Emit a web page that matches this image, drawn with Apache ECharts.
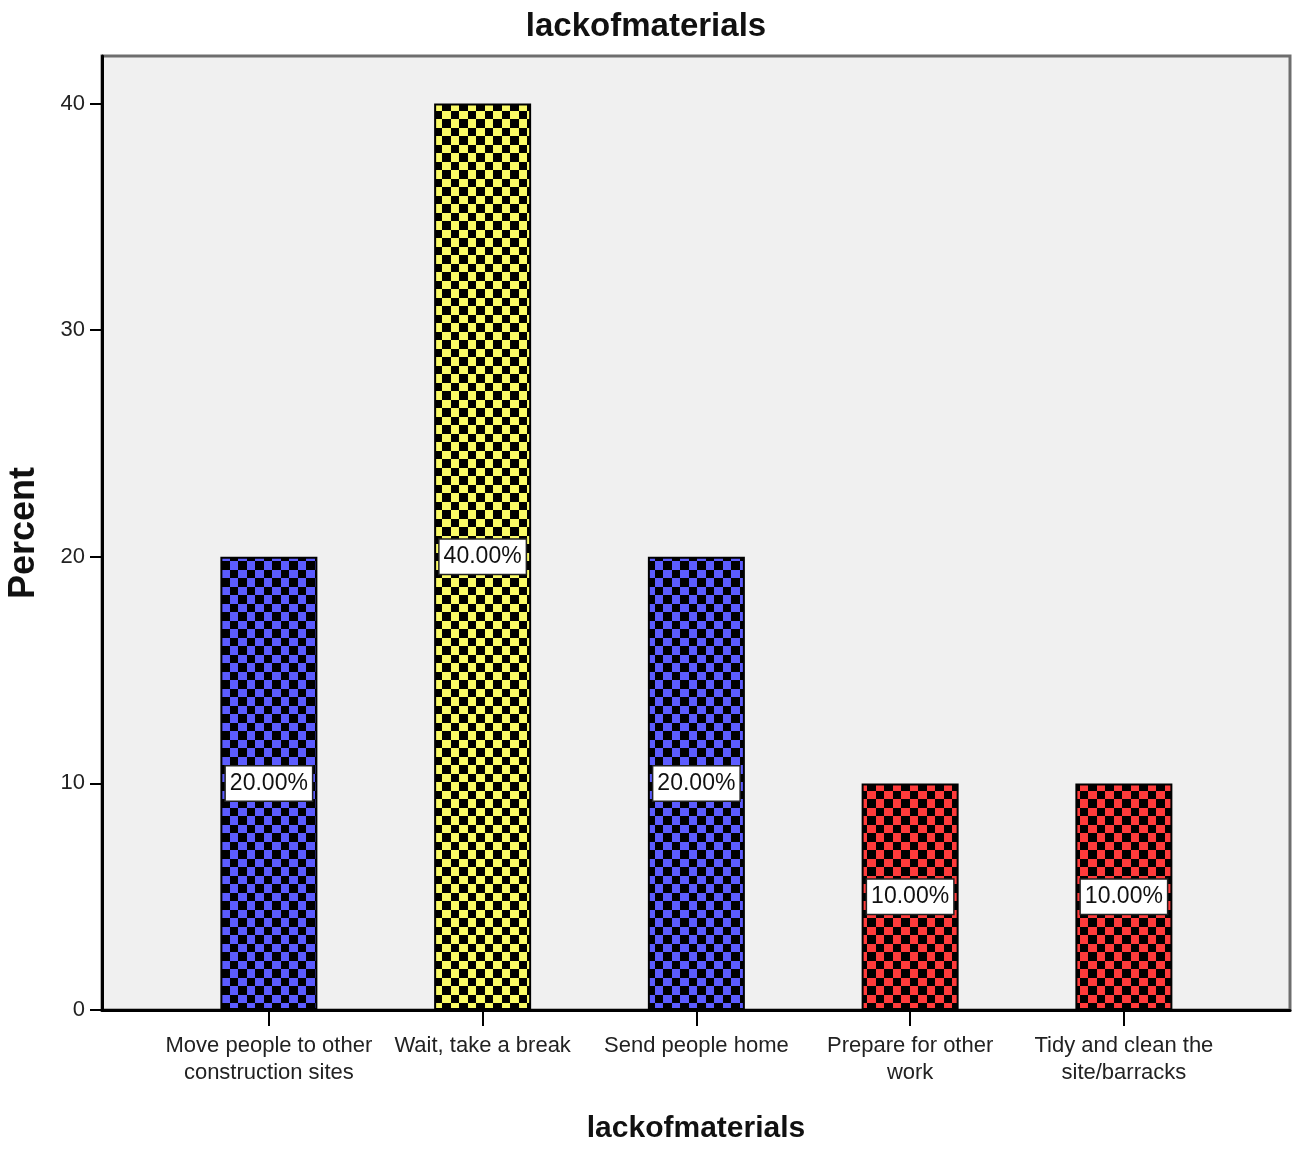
<!DOCTYPE html>
<html>
<head>
<meta charset="utf-8">
<style>
  html, body { margin: 0; padding: 0; background: #ffffff; }
  #chart { width: 1297px; height: 1149px; }
</style>
<script src="https://cdn.jsdelivr.net/npm/echarts@6/dist/echarts.min.js"></script>
</head>
<body>
<div id="chart"></div>
<script>
// Responses to "lackofmaterials"
const categories = [
  'Move people to other\nconstruction sites',
  'Wait, take a break',
  'Send people home',
  'Prepare for other\nwork',
  'Tidy and clean the\nsite/barracks'
];
const percents = [20, 40, 20, 10, 10];
const yTicks = [0, 10, 20, 30, 40];

// Fill colour of each bar (checkered with black)
const fills = ['#5c5cff', '#fafa66', '#5c5cff', '#ff3b3b', '#ff3b3b'];

// Checkerboard tile: 34px period, squares alternating 9/8 px
function checker(color) {
  const c = document.createElement('canvas');
  c.width = 34; c.height = 34;
  const ctx = c.getContext('2d');
  ctx.fillStyle = color;
  ctx.fillRect(0, 0, 34, 34);
  ctx.fillStyle = '#000000';
  const edges = [0, 9, 17, 26, 34];
  for (let i = 0; i < 4; i++) {
    for (let j = 0; j < 4; j++) {
      if ((i + j) % 2 === 0) {
        ctx.fillRect(edges[i], edges[j], edges[i + 1] - edges[i], edges[j + 1] - edges[j]);
      }
    }
  }
  return { image: c, repeat: 'repeat' };
}

const font = 'Liberation Sans, Arial, sans-serif';
const yMax = 42.1;

const chart = echarts.init(document.getElementById('chart'), null, { renderer: 'canvas' });

chart.setOption({
  backgroundColor: '#ffffff',
  animation: false,
  title: {
    text: 'lackofmaterials',
    left: 641,
    textAlign: 'center',
    top: 5,
    textStyle: { fontFamily: font, fontSize: 33, fontWeight: 'bold', color: '#111' }
  },
  grid: [
    { // plot frame with the value axis
      left: 102, top: 56, right: 7, bottom: 139, outerBoundsMode: 'none', containLabel: false,
      show: true, backgroundColor: '#f0f0f0', borderColor: '#6e6e6e', borderWidth: 3
    },
    { // category bands for the bars
      left: 162, top: 56, width: 1068.75, bottom: 139, outerBoundsMode: 'none', containLabel: false
    }
  ],
  xAxis: [
    {
      gridIndex: 0, type: 'value', min: 0, max: 1,
      name: 'lackofmaterials', nameLocation: 'middle', nameGap: 104,
      nameTextStyle: { fontFamily: font, fontSize: 30, fontWeight: 'bold', color: '#111' },
      axisLine: { show: true, lineStyle: { color: '#000', width: 3 } },
      axisTick: { show: false }, axisLabel: { show: false }, splitLine: { show: false }
    },
    {
      gridIndex: 1, type: 'category', data: categories, boundaryGap: true,
      axisLine: { show: false },
      axisTick: { show: true, alignWithLabel: true, length: 16, lineStyle: { color: '#000', width: 2 } },
      axisLabel: {
        interval: 0, margin: 22, fontFamily: font, fontSize: 22, lineHeight: 27, color: '#222'
      },
      splitLine: { show: false }
    }
  ],
  yAxis: [
    {
      gridIndex: 0, type: 'value', min: 0, max: yMax, interval: 10,
      name: 'Percent', nameLocation: 'middle', nameGap: 60, nameRotate: 90,
      nameTextStyle: { fontFamily: font, fontSize: 36, fontWeight: 'bold', color: '#111' },
      axisLine: { show: true, lineStyle: { color: '#000', width: 3 } },
      axisTick: { show: true, length: 12, customValues: yTicks, lineStyle: { color: '#000', width: 2 } },
      axisLabel: {
        margin: 17, fontFamily: font, fontSize: 22, color: '#222', customValues: yTicks
      },
      splitLine: { show: false }
    },
    {
      gridIndex: 1, type: 'value', min: 0, max: yMax, show: false, splitLine: { show: false }
    }
  ],
  series: [
    {
      type: 'bar',
      xAxisIndex: 1, yAxisIndex: 1,
      barWidth: 97,
      data: percents.map((v, i) => ({
        value: v,
        itemStyle: { color: checker(fills[i]), borderColor: '#000', borderWidth: 2 }
      })),
      label: {
        show: true, position: 'inside',
        formatter: p => p.value.toFixed(2) + '%',
        fontFamily: font, fontSize: 23, color: '#111',
        backgroundColor: '#ffffff', borderColor: '#222', borderWidth: 1.5,
        padding: [6, 4, 5, 4]
      }
    }
  ]
});
</script>
</body>
</html>
